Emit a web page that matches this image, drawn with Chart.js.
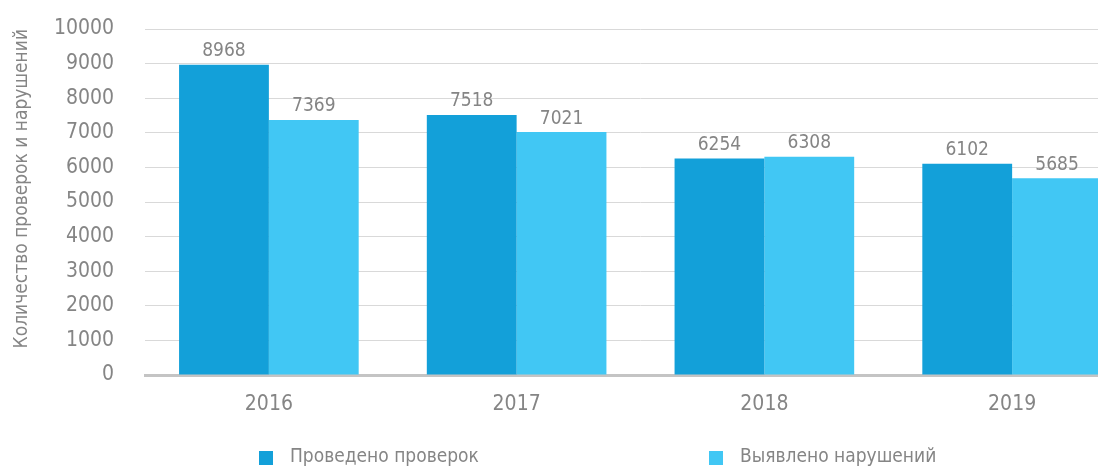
<!DOCTYPE html>
<html>
<head>
<meta charset="utf-8">
<script src="https://cdn.jsdelivr.net/npm/chart.js@4.4.1/dist/chart.umd.min.js"></script>
<style>
  html, body { margin: 0; padding: 0; background: #fff; overflow: hidden; }
  #wrap { width: 1140px; height: 470px; position: relative; }
</style>
</head>
<body>
<div id="wrap"><canvas id="bar-chart"></canvas></div>
<script>
var years = ["2016", "2017", "2018", "2019"];
var checks = [8968, 7518, 6254, 6102];
var violations = [7369, 7021, 6308, 5685];
var seriesNames = ["Проведено проверок", "Выявлено нарушений"];
var yTicks = [0, 1000, 2000, 3000, 4000, 5000, 6000, 7000, 8000, 9000, 10000];

var FONT = "'DejaVu Sans Condensed', 'Liberation Sans Narrow', sans-serif";
var GREY = "#858585";
var DARK = "#13a0d9";
var LIGHT = "#41c7f4";

// value labels above each bar
var valueLabels = {
  id: 'valueLabels',
  afterDatasetsDraw: function(chart){
    var ctx = chart.ctx;
    ctx.save();
    ctx.font = "19px " + FONT;
    ctx.fillStyle = GREY;
    ctx.textAlign = 'center';
    ctx.textBaseline = 'bottom';
    chart.data.datasets.forEach(function(ds, i){
      chart.getDatasetMeta(i).data.forEach(function(bar, j){
        ctx.fillText(ds.data[j].toString(), bar.x, bar.y - 4);
      });
    });
    ctx.restore();
  }
};

// legend spread out like the original
var wideLegend = {
  id: 'wideLegend',
  afterDraw: function(chart){
    var ctx = chart.ctx;
    var spots = [259, 709];
    ctx.save();
    ctx.font = "19px " + FONT;
    ctx.textBaseline = 'middle';
    ctx.textAlign = 'left';
    chart.data.datasets.forEach(function(ds, i){
      ctx.fillStyle = ds.backgroundColor;
      ctx.fillRect(spots[i], 451, 14, 14);
      ctx.fillStyle = GREY;
      ctx.fillText(ds.label, spots[i] + 31, 457);
    });
    ctx.restore();
  }
};

function createBars(){
  var el = document.getElementById('bar-chart').getContext('2d');
  var myBars = new Chart(el, {
    type: 'bar',
    data: {
      labels: years,
      datasets: [
        { label: seriesNames[0], data: checks, backgroundColor: DARK, categoryPercentage: 0.725, barPercentage: 1 },
        { label: seriesNames[1], data: violations, backgroundColor: LIGHT, categoryPercentage: 0.725, barPercentage: 1 }
      ]
    },
    options: {
      responsive: true,
      maintainAspectRatio: false,
      animation: false,
      layout: { padding: { top: 29, right: 4, bottom: 0, left: 0 } },
      plugins: {
        legend: { display: false },
        tooltip: { enabled: false }
      },
      scales: {
        x: {
          grid: { display: false, drawTicks: false },
          border: { color: "#c4c4c4", width: 3 },
          ticks: { color: GREY, font: { family: FONT, size: 21 }, padding: 17 },
          afterFit: function(scale){ scale.height = 95; }
        },
        y: {
          min: 0,
          max: 10000,
          afterBuildTicks: function(scale){
            scale.ticks = yTicks.map(function(v){ return { value: v }; });
          },
          grid: { color: "#d9d9d9", lineWidth: 1, drawTicks: false },
          border: { display: false },
          ticks: {
            color: GREY,
            font: { family: FONT, size: 21 },
            padding: 31,
            callback: function(v){ return v.toString(); }
          },
          title: {
            display: true,
            text: "Количество проверок и нарушений",
            align: 'end',
            color: GREY,
            font: { family: FONT, size: 19 },
            padding: { top: 11, bottom: 0 }
          },
          afterFit: function(scale){
            scale.width = 145;
            scale.paddingTop = 0;
            scale.paddingBottom = 0;
          }
        }
      }
    },
    plugins: [valueLabels, wideLegend]
  });
}
createBars();
</script>
</body>
</html>
